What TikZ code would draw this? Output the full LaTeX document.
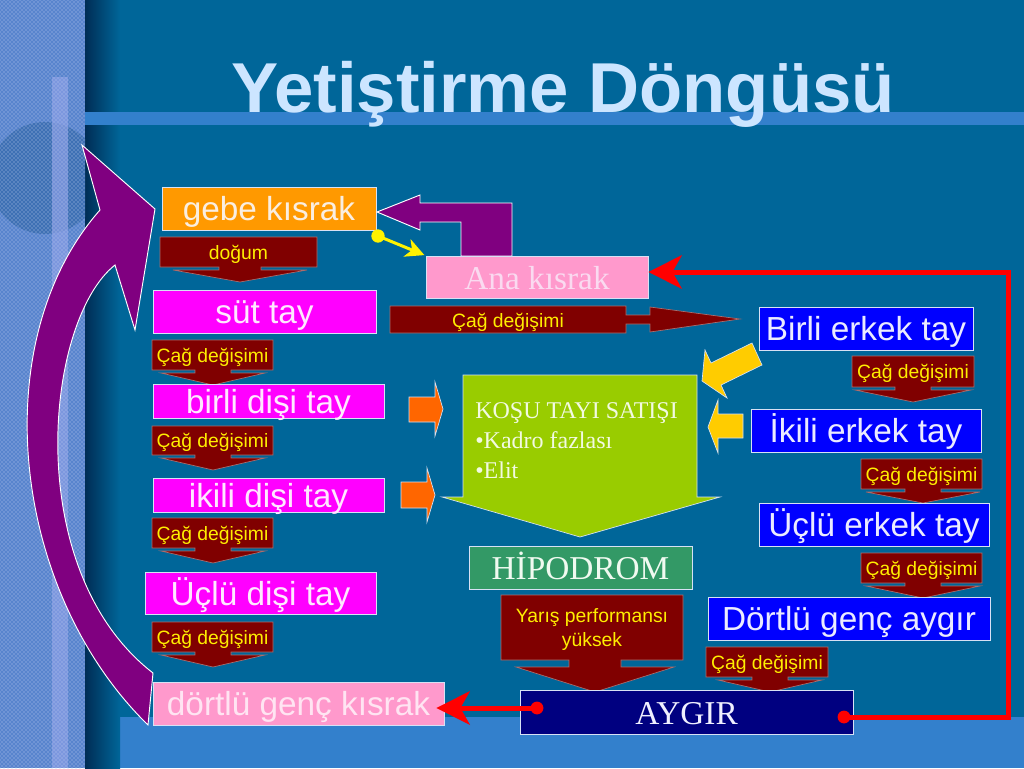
\documentclass[tikz,border=0pt]{standalone}
\usepackage{fontspec}
\setmainfont{Liberation Sans}
\newfontfamily\serifit{Liberation Serif}
\usetikzlibrary{arrows.meta,calc,patterns}

\definecolor{bgmain}{RGB}{0,102,153}
\definecolor{bandblue}{RGB}{51,128,204}
\definecolor{stripblue}{RGB}{88,132,205}
\definecolor{stripcircle}{RGB}{62,112,180}
\definecolor{stripbar}{RGB}{140,160,230}
\definecolor{stripdot}{RGB}{190,205,240}
\definecolor{shadowdark}{RGB}{0,45,85}
\definecolor{titlecol}{RGB}{204,229,255}
\definecolor{orangebox}{RGB}{255,153,0}
\definecolor{magentabox}{RGB}{255,0,255}
\definecolor{pinkbox}{RGB}{255,153,204}
\definecolor{bluebox}{RGB}{0,0,255}
\definecolor{navybox}{RGB}{0,0,128}
\definecolor{greenbox}{RGB}{51,153,102}
\definecolor{limebox}{RGB}{153,204,0}
\definecolor{darkredbox}{RGB}{128,0,0}
\definecolor{purplearr}{RGB}{128,0,128}
\definecolor{calltextcol}{RGB}{255,238,0}
\definecolor{orangearr}{RGB}{255,102,0}
\definecolor{goldarr}{RGB}{255,204,0}
\definecolor{boxedge}{RGB}{215,225,245}
\definecolor{calledge}{RGB}{170,110,110}
\definecolor{txtorange}{RGB}{250,238,225}
\definecolor{txtmag}{RGB}{255,232,255}
\definecolor{txtblue}{RGB}{235,235,255}
\definecolor{txtpink}{RGB}{255,228,242}
\definecolor{txtana}{RGB}{250,218,240}
\definecolor{txtlime}{RGB}{242,250,225}
\definecolor{txtgreen}{RGB}{240,250,240}
\definecolor{txtnavy}{RGB}{240,240,255}

\newcommand\neckw{18}
\newcommand\dcall[9]{%
  \draw[callout] (#2,#3) -- (#4,#3) -- (#4,#5) -- ({#7+\neckw},#5) -- ({#7+\neckw},{#5+3}) -- ({#7+#6},{#5+3}) -- (#7,#8) -- ({#7-#6},{#5+3}) -- ({#7-\neckw},{#5+3}) -- ({#7-\neckw},#5) -- (#2,#5) -- cycle;
  \node[calltext] (#1) at ({(#2+#4)/2},{(#3+#5)/2}) {#9};}
\newcommand\bx[7]{%
  \node[#2,minimum width={((#5)-(#3))*0.75pt},minimum height={((#6)-(#4))*0.75pt}] (#1) at ({((#3)+(#5))/2},{((#4)+(#6))/2}) {#7};}

\begin{document}
\begin{tikzpicture}[x=0.75pt,y=-0.75pt,
  box/.style={rectangle,inner sep=0pt,draw=boxedge,line width=0.6pt,font=\fontsize{25}{28}\selectfont,text height=18pt,text depth=0pt},
  magbox/.style={box,fill=magentabox,text=txtmag},
  bluebx/.style={box,fill=bluebox,text=txtblue},
  callout/.style={fill=darkredbox,draw=calledge,line width=0.5pt},
  calltext/.style={text=calltextcol,font=\fontsize{14.5}{18}\selectfont,inner sep=0pt,text height=10.5pt,text depth=0pt},
  calltexttwo/.style={text=calltextcol,font=\fontsize{14.5}{18}\selectfont,inner sep=0pt,align=center},
  purplebody/.style={fill=purplearr,draw=white,line width=0.7pt},
  redline/.style={draw=red,line width=3.75pt},
  redtip/.style={-{Stealth[length=25pt,width=25pt,inset=7pt]}},
  blockarrow/.style={draw=boxedge,line width=0.5pt}]
\useasboundingbox (0,0) rectangle (1024,768);

% ---------- background ----------
\fill[bgmain] (0,0) rectangle (1024,768);
\fill[bandblue] (120,717) rectangle (1024,768);
\shade[left color=shadowdark,right color=bgmain] (85,0) rectangle (120,768);
\fill[bandblue] (85,112) rectangle (1024,125);
\fill[stripblue] (0,0) rectangle (85,768);
\begin{scope}
  \clip (0,0) rectangle (85,768);
  \fill[stripcircle] (45,178) circle[radius=42pt];
  \fill[stripbar,opacity=0.7] (52,77) rectangle (68,768);
  \fill[pattern=crosshatch dots,pattern color=stripdot] (0,0) rectangle (85,768);
\end{scope}

% ---------- title ----------
\node[anchor=base,text=titlecol,font=\fontsize{53}{60}\selectfont\bfseries] (title) at (563,112) {Yetiştirme Döngüsü};

% ---------- big curved purple arrow ----------
\draw[purplebody] (153,673) .. controls (20,570) and (45,320) .. (115,265) -- (135,330) -- (155,209) -- (82,145) -- (100,210) .. controls (-15,340) and (10,590) .. (148,725) -- cycle;

% ---------- left column ----------
\bx{gebe}{box,fill=orangebox,text=txtorange}{162}{187}{376}{230}{gebe kısrak}
\renewcommand\neckw{21}
\dcall{dogum}{160}{237}{317}{267}{67}{240}{282}{doğum}
\renewcommand\neckw{18}
\bx{sut}{magbox}{153}{290}{376}{333}{süt tay}
\dcall{cagL1}{152}{340}{273}{370}{52}{213}{385}{Çağ değişimi}
\bx{birlidisi}{magbox}{153}{384}{384}{418}{birli dişi tay}
\dcall{cagL2}{152}{426}{273}{455}{52}{213}{470}{Çağ değişimi}
\bx{ikilidisi}{magbox}{153}{478}{384}{512}{ikili dişi tay}
\dcall{cagL3}{152}{518}{273}{548}{52}{213}{563}{Çağ değişimi}
\bx{ucludisi}{magbox}{145}{572}{376}{614}{Üçlü dişi tay}
\dcall{cagL4}{152}{622}{273}{652}{52}{213}{667}{Çağ değişimi}
\bx{dortlukisrak}{box,fill=pinkbox,text=txtpink}{153}{682}{444}{725}{dörtlü genç kısrak}

% ---------- Ana kısrak and its arrows ----------
\draw[purplebody] (512,256) -- (512,203) -- (420,203) -- (420,195) -- (377,212) -- (420,230) -- (420,222) -- (461,222) -- (461,256) -- cycle;
\bx{ana}{box,fill=pinkbox,text=txtana,font=\serifit\fontsize{25}{28}\selectfont}{426}{256}{648}{298}{Ana kısrak}
\draw[callout] (390,306) -- (626,306) -- (626,315) -- (650,315) -- (650,307) -- (740,319) -- (650,332) -- (650,324) -- (626,324) -- (626,333) -- (390,333) -- cycle;
\node[calltext] (cagana) at (508,320) {Çağ değişimi};

% yellow connector
\coordinate (ydot) at (378,236);
\fill[yellow] (ydot) circle[radius=5pt];
\draw[yellow,line width=2.25pt,-{Stealth[length=14pt,width=14pt,inset=4pt]},shorten >=1pt] (ydot) -- (ana.north west);

% ---------- center ----------
\draw[blockarrow,fill=limebox] (463,375) -- (697,375) -- (697,497) -- (720,497) -- (580,537) -- (442,497) -- (463,497) -- cycle;
\node[anchor=north west,inner sep=0pt,align=left,text=txtlime,font=\serifit\fontsize{18}{22.5}\selectfont] (kosu) at (475,402) {KOŞU TAYI SATIŞI\\•Kadro fazlası\\•Elit};
\bx{hipodrom}{box,fill=greenbox,text=txtgreen,font=\serifit\fontsize{25}{28}\selectfont}{469}{546}{692}{589}{HİPODROM}

% orange arrows
\draw[blockarrow,fill=orangearr] (409,397) -- (435,397) -- (435,382) -- (443,409) -- (435,436) -- (435,422) -- (409,422) -- cycle;
\draw[blockarrow,fill=orangearr] (401,482) -- (427,482) -- (427,468) -- (435,495) -- (427,522) -- (427,508) -- (401,508) -- cycle;

% gold arrows
\draw[blockarrow,fill=goldarr] (752,343) -- (762,365) -- (721,385) -- (727,398) -- (702,381) -- (705,350) -- (711,363) -- cycle;
\draw[blockarrow,fill=goldarr] (743,414) -- (743,438) -- (718,438) -- (718,453) -- (708,427) -- (718,400) -- (718,414) -- cycle;

% ---------- right column ----------
\bx{birlierkek}{bluebx}{759}{307}{973}{350}{Birli erkek tay}
\dcall{cagR1}{852}{356}{974}{387}{58}{913}{402}{Çağ değişimi}
\bx{ikilierkek}{bluebx}{751}{409}{981}{452}{İkili erkek tay}
\dcall{cagR2}{861}{459}{982}{489}{57}{923}{503}{Çağ değişimi}
\bx{uclerkek}{bluebx}{759}{503}{989}{546}{Üçlü erkek tay}
\dcall{cagR3}{861}{553}{982}{583}{57}{923}{598}{Çağ değişimi}
\bx{dortluaygir}{bluebx}{708}{597}{990}{640}{Dörtlü genç aygır}
\dcall{cagA}{706}{647}{828}{677}{52}{770}{692}{Çağ değişimi}

% ---------- bottom ----------
\renewcommand\neckw{26}
\draw[callout] (501,595) -- (683,595) -- (683,660) -- (621,660) -- (621,667) -- (674,667) -- (595,692) -- (516,667) -- (569,667) -- (569,660) -- (501,660) -- cycle;
\node[calltexttwo] (yaris) at (592,629) {Yarış performansı\\yüksek};
\bx{aygir}{box,fill=navybox,text=txtnavy,font=\serifit\fontsize{25}{28}\selectfont}{520}{690}{853}{734}{AYGIR}

% red connectors
\coordinate (adotL) at (537,708);
\coordinate (adotR) at (844,717);
\draw[redline,redtip] (adotR) -- (1008,717) -- (1008,272) -- (ana.east |- 0,272);
\draw[redline,redtip,shorten >=-6pt] (adotL) -- (dortlukisrak.east |- adotL);
\fill[red] (adotL) circle[radius=4.8pt];
\fill[red] (adotR) circle[radius=4.8pt];
\end{tikzpicture}
\end{document}
